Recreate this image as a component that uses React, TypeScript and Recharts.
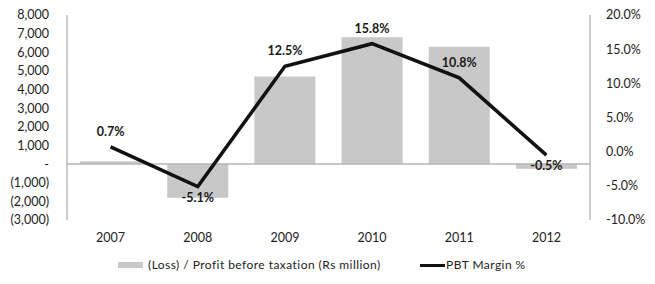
import React from 'react';
import { ComposedChart, Bar, Line, XAxis, YAxis, ReferenceLine, Legend, LabelList } from 'recharts';

const years = ['2007', '2008', '2009', '2010', '2011', '2012'];
const profitBeforeTax = [150, -1800, 4700, 6800, 6300, -250];
const pbtMargin = [0.7, -5.1, 12.5, 15.8, 10.8, -0.5];
const leftTicks = [-3000, -2000, -1000, 0, 1000, 2000, 3000, 4000, 5000, 6000, 7000, 8000];
const rightTicks = [-10, -5, 0, 5, 10, 15, 20];
const barName = '(Loss) / Profit before taxation (Rs million)';
const lineName = 'PBT Margin %';

const data = years.map((y, i) => ({ year: y, pbt: profitBeforeTax[i], margin: pbtMargin[i] }));

const FONT = 'Lato, "DejaVu Sans", sans-serif';
const TEXT = '#222';

const fmtLeft = (v: number) => {
  if (v === 0) return '-';
  const s = Math.abs(v).toLocaleString('en-US');
  return v < 0 ? `(${s})` : s;
};
const fmtRight = (v: number) => `${v.toFixed(1)}%`;

const MarginLabel = (props: any) => {
  const { x, y, value } = props;
  const below = value < 0;
  return (
    <text
      x={x}
      y={below ? y + 15 : y - 11}
      textAnchor="middle"
      fontFamily={FONT}
      fontSize={12.5}
      fontWeight={700}
      fill="#1a1a1a"
    >
      {`${value.toFixed(1)}%`}
    </text>
  );
};

const LegendContent = () => (
  <div style={{ position: 'relative', height: 16, fontFamily: FONT, fontSize: 12, letterSpacing: 0.45, color: TEXT, lineHeight: '16px' }}>
    <span style={{ position: 'absolute', left: 118, top: 5, width: 25, height: 6, background: '#c8c8c8' }} />
    <span style={{ position: 'absolute', left: 148, top: 0, whiteSpace: 'nowrap' }}>{barName}</span>
    <span style={{ position: 'absolute', left: 420, top: 7, width: 25, height: 2.5, background: '#111' }} />
    <span style={{ position: 'absolute', left: 446, top: 0, whiteSpace: 'nowrap' }}>{lineName}</span>
  </div>
);

export default function App() {
  return (
    <div style={{ position: 'absolute', left: 0, top: 0, background: '#fff' }}>
      <ComposedChart
        width={655}
        height={284}
        data={data}
        margin={{ top: 15, right: 0, left: 0, bottom: 18 }}
        barCategoryGap="15%"
      >
        <XAxis
          dataKey="year"
          axisLine={false}
          tickLine={false}
          tickMargin={7}
          height={30}
          tick={{ fontFamily: FONT, fontSize: 12.5, fill: TEXT }}
        />
        <YAxis
          yAxisId="left"
          domain={[-3000, 8000]}
          ticks={leftTicks}
          interval={0}
          tickFormatter={fmtLeft}
          width={67}
          axisLine={{ stroke: '#bdbdbd', strokeWidth: 1.5 }}
          tickLine={false}
          tickMargin={12}
          tick={{ fontFamily: FONT, fontSize: 12.5, fill: TEXT }}
        />
        <YAxis
          yAxisId="right"
          orientation="right"
          domain={[-10, 20]}
          ticks={rightTicks}
          interval={0}
          tickFormatter={fmtRight}
          width={65}
          axisLine={{ stroke: '#bdbdbd', strokeWidth: 1.5 }}
          tickLine={false}
          tickMargin={10}
          tick={{ fontFamily: FONT, fontSize: 12.5, fill: TEXT }}
        />
        <ReferenceLine yAxisId="left" y={0} stroke="#b5b5b5" strokeWidth={1.5} />
        <Bar yAxisId="left" dataKey="pbt" name={barName} fill="#c8c8c8" isAnimationActive={false} />
        <Line
          yAxisId="right"
          dataKey="margin"
          name={lineName}
          stroke="#111"
          strokeWidth={3.5}
          dot={false}
          activeDot={false}
          isAnimationActive={false}
        >
          <LabelList dataKey="margin" content={MarginLabel} />
        </Line>
        <Legend
          verticalAlign="bottom"
          height={16}
          content={LegendContent}
          wrapperStyle={{ left: 0, top: 257, width: 655, height: 16 }}
        />
      </ComposedChart>
    </div>
  );
}
